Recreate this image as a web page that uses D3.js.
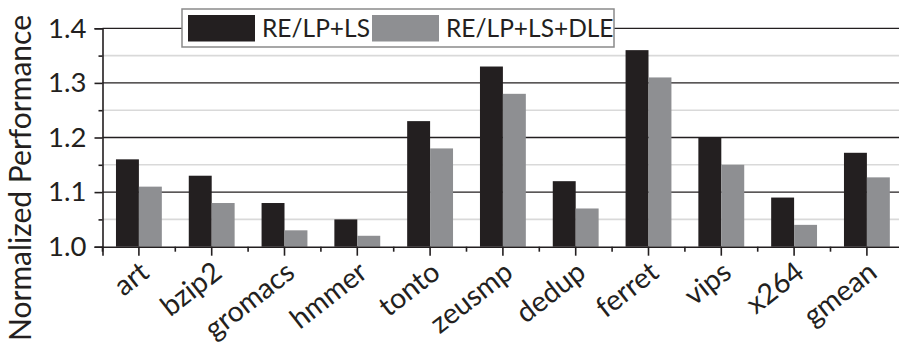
<!DOCTYPE html>
<html><head><meta charset="utf-8">
<script src="https://cdn.jsdelivr.net/npm/d3@7"></script>
<style>
body{margin:0;background:#fff;}
svg{display:block;font-family:Lato, "Open Sans", sans-serif;}
</style></head>
<body>
<svg id="chart" width="899" height="345"></svg>
<script>
const categories = ["art","bzip2","gromacs","hmmer","tonto","zeusmp","dedup","ferret","vips","x264","gmean"];
const seriesNames = ["RE/LP+LS","RE/LP+LS+DLE"];
const seriesLS = [1.16,1.13,1.08,1.05,1.23,1.33,1.12,1.36,1.20,1.09,1.172];
const seriesDLE = [1.11,1.08,1.03,1.02,1.18,1.28,1.07,1.31,1.15,1.04,1.127];
const yMajorTicks = [1.0,1.1,1.2,1.3,1.4];
const yMinorTicks = [1.05,1.15,1.25,1.35];
const colors = ["#231f20","#8e8f92"];

const svg = d3.select("#chart");
const pLeft = 102.5, pRight = 903.3, pTop = 28.3, pBottom = 246.7;

const x = d3.scaleBand().domain(categories).range([pLeft, pRight]).padding(0);
const bw = x.bandwidth();
const x1 = d3.scaleBand().domain(seriesNames).range([bw*0.185, bw*0.815]).padding(0);
const y = d3.scaleLinear().domain([1.0, 1.4]).range([pBottom, pTop]);

// minor gridlines
svg.append("g").selectAll("line").data(yMinorTicks).join("line")
  .attr("x1", pLeft).attr("x2", 899).attr("y1", d=>y(d)).attr("y2", d=>y(d))
  .attr("stroke", "#d9d9d9").attr("stroke-width", 1.6);
// major gridlines
svg.append("g").selectAll("line").data(yMajorTicks.filter(d=>d>1.0)).join("line")
  .attr("x1", pLeft).attr("x2", 899).attr("y1", d=>y(d)).attr("y2", d=>y(d))
  .attr("stroke", "#231f20").attr("stroke-width", 1.3);

// bars
const data = categories.map((c,i)=>({c, vals:[seriesLS[i], seriesDLE[i]]}));
const groups = svg.append("g").selectAll("g").data(data).join("g")
  .attr("transform", d=>`translate(${x(d.c)},0)`);
groups.selectAll("rect").data(d=>d.vals.map((v,j)=>({v,j}))).join("rect")
  .attr("x", d=>x1(seriesNames[d.j]))
  .attr("width", x1.bandwidth())
  .attr("y", d=>y(d.v))
  .attr("height", d=>y(1.0)-y(d.v))
  .attr("fill", d=>colors[d.j]);

// y axis
const yAxis = svg.append("g").attr("transform", `translate(${pLeft},0)`)
  .call(d3.axisLeft(y).tickValues(yMajorTicks).tickSize(8).tickFormat(d3.format(".1f")));
yAxis.select(".domain").attr("stroke","#231f20").attr("stroke-width",1.6);
yAxis.selectAll(".tick line").attr("stroke","#231f20").attr("stroke-width",1.6);
yAxis.selectAll(".tick text").attr("font-size",27.5).attr("fill","#231f20").attr("x",-16)
  .attr("font-family","Lato, sans-serif");
const yMinor = svg.append("g").attr("transform", `translate(${pLeft},0)`)
  .call(d3.axisLeft(y).tickValues(yMinorTicks).tickSize(4).tickFormat(""));
yMinor.select(".domain").remove();
yMinor.selectAll(".tick line").attr("stroke","#231f20").attr("stroke-width",1.6);

// x axis (center ticks)
const xAxis = svg.append("g").attr("transform", `translate(0,${pBottom})`)
  .call(d3.axisBottom(x).tickSize(9).tickFormat(""));
xAxis.select(".domain").attr("stroke","#231f20").attr("stroke-width",1.6);
xAxis.selectAll(".tick line").attr("stroke","#231f20").attr("stroke-width",1.6);
// boundary ticks
svg.append("g").selectAll("line").data(categories).join("line")
  .attr("x1", d=>x(d)).attr("x2", d=>x(d)).attr("y1", pBottom).attr("y2", pBottom+5)
  .attr("stroke","#231f20").attr("stroke-width",1.6);

// x labels
svg.append("g").selectAll("text").data(categories).join("text")
  .attr("transform", d=>`translate(${x(d)+bw/2+12},${pBottom+29}) rotate(-38)`)
  .attr("text-anchor","end")
  .attr("font-size",28.5).attr("fill","#231f20")
  .text(d=>d);

// y title
svg.append("text")
  .attr("transform", `translate(31,${178}) rotate(-90)`)
  .attr("text-anchor","middle")
  .attr("font-size",30).attr("fill","#231f20")
  .text("Normalized Performance");

// legend
const lg = svg.append("g");
lg.append("rect").attr("x",182).attr("y",9).attr("width",432).attr("height",38)
  .attr("fill","#fff").attr("stroke","#8a8a8a").attr("stroke-width",1.5);
const legX = [188, 372];
seriesNames.forEach((s,i)=>{
  lg.append("rect").attr("x",legX[i]).attr("y",15).attr("width",67).attr("height",26.5).attr("fill",colors[i]);
  lg.append("text").attr("x",legX[i]+74).attr("y",37).attr("font-size",24.5).attr("fill","#231f20").text(s);
});
</script>
</body></html>
